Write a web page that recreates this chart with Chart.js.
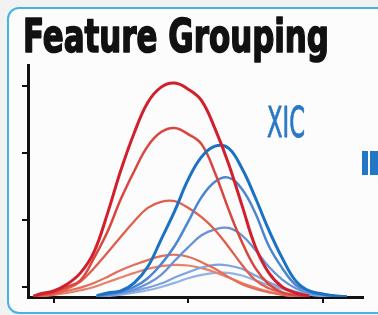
<!DOCTYPE html>
<html>
<head>
<meta charset="utf-8">
<script src="https://cdn.jsdelivr.net/npm/chart.js@4"></script>
<style>
  html, body { margin: 0; padding: 0; background: #f1f2f2; }
  #wrap { position: relative; width: 378px; height: 315px; overflow: hidden; }
  #box { position: absolute; left: 7px; top: 7px; width: 380px; height: 303px;
         border: 2px solid #45b3e3; border-radius: 12px; background: #fcfcfc; }
  #chart { position: absolute; left: 0; top: 0; }
</style>
</head>
<body>
<div id="wrap">
  <div id="box"></div>
  <canvas id="chart" width="378" height="315"></canvas>
</div>
<script>
// retention time ticks and intensity ticks
const xTicks = [10, 20, 30];
const yTicks = [1.5, 11.5, 21.5, 31.5];

// red feature group
const redX = [8.5, 9, 10, 11, 12, 13, 14, 15, 16, 17, 18, 19, 20, 21, 22, 23, 24, 25, 26, 27, 28, 29];
const red1 = [0.1, 0.45, 0.9, 1.9, 3.6, 6.7, 12.4, 18.9, 24.5, 29.0, 31.3, 31.9, 31.0, 29.3, 25.1, 19.9, 13.7, 7.5, 3.6, 1.5, 0.6, 0.15];
const red2 = [0.05, 0.3, 0.7, 1.5, 2.5, 5.8, 9.7, 14.6, 18.8, 22.5, 24.6, 25.2, 24.3, 22.8, 18.5, 13.1, 8.2, 4.3, 1.9, 0.7, 0.3, 0.1];
const red3 = [0.03, 0.15, 0.45, 1.2, 2.3, 4.3, 6.6, 9.0, 11.3, 13.3, 14.2, 14.3, 13.3, 11.9, 10.0, 7.5, 4.8, 2.5, 1.3, 0.6, 0.15, 0.05];
const red4 = [0.02, 0.15, 0.4, 0.9, 1.4, 2.1, 3.0, 4.0, 4.8, 5.5, 6.1, 6.3, 6.0, 5.2, 4.2, 3.0, 1.9, 1.2, 0.7, 0.3, 0.1, 0.03];
const red5 = [0.02, 0.1, 0.3, 0.6, 1.0, 1.5, 2.2, 2.9, 3.6, 4.2, 4.6, 4.8, 4.7, 4.3, 3.7, 2.9, 2.1, 1.4, 0.8, 0.4, 0.15, 0.05];

// blue feature group
const blueX = [13.2, 14, 15, 16, 17, 18, 19, 20, 21, 22, 23, 24, 25, 26, 27, 28, 29, 30, 31, 31.8];
const blue1 = [0.2, 0.6, 0.9, 2.1, 4.5, 8.6, 12.8, 17.5, 20.9, 22.5, 22.2, 19.2, 14.8, 10.0, 5.8, 2.4, 0.9, 0.45, 0.15, 0.05];
const blue2 = [0.1, 0.4, 0.8, 1.5, 2.8, 4.9, 7.6, 11.2, 14.9, 17.2, 17.8, 16.1, 12.5, 7.6, 4.3, 1.8, 0.9, 0.4, 0.15, 0.05];
const blue3 = [0.05, 0.25, 0.6, 1.1, 2.0, 3.3, 5.4, 7.4, 9.2, 10.1, 10.3, 9.2, 7.0, 4.5, 2.6, 1.3, 0.6, 0.3, 0.1, 0.03];
const blue4 = [0.03, 0.2, 0.5, 0.9, 1.4, 2.0, 2.9, 3.7, 4.4, 4.8, 4.7, 4.2, 3.2, 2.2, 1.4, 0.8, 0.4, 0.2, 0.08, 0.02];
const blue5 = [0.02, 0.15, 0.35, 0.65, 1.0, 1.5, 2.1, 2.8, 3.3, 3.6, 3.6, 3.2, 2.5, 1.8, 1.2, 0.7, 0.35, 0.15, 0.05, 0.02];

const redColors = ['#d11f2c', '#d9463d', '#df5f4c', '#e46d58', '#e8806a'];
const blueColors = ['#1b72c3', '#4c86d0', '#6893d6', '#7ea3de', '#93b3e6'];

function pts(xs, ys) {
  return xs.map((x, i) => ({ x: x, y: ys[i] }));
}

function line(xs, ys, color, width) {
  return {
    data: pts(xs, ys),
    borderColor: color,
    borderWidth: width,
    pointRadius: 0,
    fill: false,
    tension: 0.4
  };
}

// text squeezed to a given width, like the condensed face in the figure
function drawFit(c, text, font, color, x, y, w, stroke) {
  c.save();
  c.font = font;
  c.fillStyle = color;
  c.strokeStyle = color;
  c.textBaseline = 'alphabetic';
  let m = c.measureText(text).width;
  c.translate(x, y);
  c.scale(w / m, 1);
  c.fillText(text, 0, 0);
  if (stroke) {
    c.lineWidth = stroke;
    c.lineJoin = 'round';
    c.strokeText(text, 0, 0);
  }
  c.restore();
}

const decor = {
  id: 'decor',
  afterDraw(chart) {
    let c = chart.ctx;
    drawFit(c, 'Feature Grouping', 'bold 46px "Liberation Sans Narrow", "DejaVu Sans Condensed", "Arial Narrow", sans-serif', '#111111', 23, 52, 306, 1.6);
    drawFit(c, 'XIC', '42px "Liberation Sans Narrow", "DejaVu Sans Condensed", "Arial Narrow", sans-serif', '#2a78c6', 267, 137, 38, 0.8);
    c.fillStyle = '#2276c6';
    c.fillRect(362, 151, 6, 24);
    c.fillRect(370, 151, 8, 24);
  }
};

const datasets = [
  line(redX, red1, redColors[0], 3),
  line(blueX, blue1, blueColors[0], 3),
  line(redX, red2, redColors[1], 2.5),
  line(blueX, blue2, blueColors[1], 2.5),
  line(redX, red3, redColors[2], 2.3),
  line(blueX, blue3, blueColors[2], 2.3),
  line(redX, red4, redColors[3], 2.2),
  line(blueX, blue4, blueColors[3], 2.2),
  line(redX, red5, redColors[4], 2.2),
  line(blueX, blue5, blueColors[4], 2.2)
];

new Chart(document.getElementById('chart'), {
  type: 'line',
  data: { datasets: datasets },
  plugins: [decor],
  options: {
    responsive: false,
    animation: false,
    layout: { padding: { left: 22, top: 65, right: 15, bottom: 12 } },
    plugins: { legend: { display: false }, tooltip: { enabled: false } },
    scales: {
      x: {
        type: 'linear',
        min: 8.1,
        max: 33,
        afterBuildTicks: s => { s.ticks = xTicks.map(v => ({ value: v })); },
        ticks: { display: false },
        grid: { drawOnChartArea: false, drawTicks: true, tickLength: 6, color: '#111', lineWidth: 2 },
        border: { display: true, color: '#111', width: 3 }
      },
      y: {
        min: 0,
        max: 34.6,
        afterBuildTicks: s => { s.ticks = yTicks.map(v => ({ value: v })); },
        ticks: { display: false },
        grid: { drawOnChartArea: false, drawTicks: true, tickLength: 6, color: '#111', lineWidth: 2 },
        border: { display: true, color: '#111', width: 3 }
      }
    }
  }
});
</script>
</body>
</html>
